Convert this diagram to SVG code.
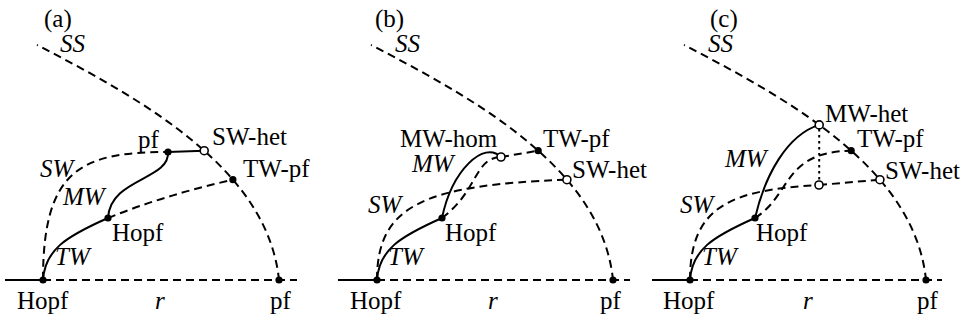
<svg xmlns="http://www.w3.org/2000/svg" width="964" height="323" viewBox="0 0 964 323" font-family="'Liberation Serif', 'Times New Roman', serif">
<style>
  text { font-family: "Liberation Serif", "Times New Roman", serif; font-size: 25px; fill: #000; }
  .it { font-style: italic; }
  .solid { fill: none; stroke: #000; stroke-width: 2; }
  .dash { fill: none; stroke: #000; stroke-width: 2; stroke-dasharray: 8 5; }
  .ss { fill: none; stroke: #000; stroke-width: 2; stroke-dasharray: 8 5; stroke-dashoffset: 7; }
  .dot { fill: none; stroke: #000; stroke-width: 2; stroke-dasharray: 2.5 3.5; }
  .fd { fill: #000; stroke: none; }
  .od { fill: #fff; stroke: #000; stroke-width: 1.6; }
</style>
<rect width="964" height="323" fill="#fff"/>

<!-- Panel (a) -->
<g id="panel-a">
  <g id="connectors-a">
    <line class="solid" x1="5" y1="280" x2="43" y2="280"/>
    <line class="dash" x1="43" y1="280" x2="297" y2="280"/>
    <path class="ss" d="M37,45 C150,103 268,172 279,280"/>
    <path class="dash" d="M43,280 C43,170 80,152 168,152"/>
    <line class="solid" x1="168" y1="152" x2="204" y2="150.7"/>
    <path class="solid" d="M43,280 C45,250 65,237 108,218"/>
    <path class="solid" d="M108,218 C110,178 170,180 168,152"/>
    <path class="dash" d="M108,218 Q165,195 233,179.7"/>
  </g>
  <g id="a-hopf0"><circle class="fd" cx="43" cy="280" r="3.6"/><text x="17" y="309">Hopf</text></g>
  <g id="a-hopf1"><circle class="fd" cx="108" cy="218" r="3.6"/><text x="112" y="241">Hopf</text></g>
  <g id="a-pf"><circle class="fd" cx="168" cy="152" r="3.6"/><text x="138" y="148">pf</text></g>
  <g id="a-swhet"><circle class="od" cx="204.2" cy="150.7" r="4"/><text x="212" y="145">SW-het</text></g>
  <g id="a-twpf"><circle class="fd" cx="232.9" cy="179.7" r="3.6"/><text x="243" y="177">TW-pf</text></g>
  <g id="a-pf0"><circle class="fd" cx="279" cy="280" r="3.6"/><text x="270" y="309">pf</text></g>
  <g id="a-labels">
    <text x="44" y="27">(a)</text>
    <text class="it" x="60" y="52">SS</text>
    <text class="it" x="40" y="177">SW</text>
    <text class="it" x="63" y="205">MW</text>
    <text class="it" x="55" y="265">TW</text>
    <text class="it" x="155" y="309">r</text>
  </g>
</g>

<!-- Panel (b) -->
<g id="panel-b" transform="translate(334,0)">
  <g id="connectors-b">
    <line class="solid" x1="4" y1="280" x2="43" y2="280"/>
    <line class="dash" x1="43" y1="280" x2="296" y2="280"/>
    <path class="ss" d="M37,45 C150,103 268,172 279,280"/>
    <path class="dash" d="M43,280 C43,205 90,185 232.9,179.7"/>
    <path class="solid" d="M43,280 C45,250 65,237 108,218"/>
    <path class="solid" d="M108,218 C118,170 150,140 167,157"/>
    <path class="dash" d="M108,218 C145,190 140,158 167,157"/>
    <line class="dash" x1="167" y1="157" x2="204.2" y2="150.7"/>
  </g>
  <g id="b-hopf0"><circle class="fd" cx="43" cy="280" r="3.6"/><text x="16" y="309">Hopf</text></g>
  <g id="b-hopf1"><circle class="fd" cx="108" cy="218" r="3.6"/><text x="111" y="241">Hopf</text></g>
  <g id="b-mwhom"><circle class="od" cx="167" cy="157" r="4"/><text x="66" y="147">MW-hom</text></g>
  <g id="b-twpf"><circle class="fd" cx="204.2" cy="150.7" r="3.6"/><text x="209" y="147">TW-pf</text></g>
  <g id="b-swhet"><circle class="od" cx="232.9" cy="179.7" r="4"/><text x="238" y="178">SW-het</text></g>
  <g id="b-pf0"><circle class="fd" cx="279" cy="280" r="3.6"/><text x="266" y="309">pf</text></g>
  <g id="b-labels">
    <text x="41" y="27">(b)</text>
    <text class="it" x="61" y="52">SS</text>
    <text class="it" x="78" y="172">MW</text>
    <text class="it" x="34" y="213">SW</text>
    <text class="it" x="54" y="265">TW</text>
    <text class="it" x="154" y="309">r</text>
  </g>
</g>

<!-- Panel (c) -->
<g id="panel-c" transform="translate(647,0)">
  <g id="connectors-c">
    <line class="solid" x1="5" y1="280" x2="43" y2="280"/>
    <line class="dash" x1="43" y1="280" x2="295" y2="280"/>
    <path class="ss" d="M37,45 C150,103 268,172 279,280"/>
    <path class="dash" d="M43,280 C43,205 85,190 172,185"/>
    <line class="dash" x1="172" y1="185" x2="232.9" y2="179.7"/>
    <line class="dot" x1="172.2" y1="129" x2="172.2" y2="181"/>
    <path class="solid" d="M43,280 C45,250 65,237 108,218"/>
    <path class="solid" d="M108,218 C118,175 140,135 172.2,124.9"/>
    <path class="dash" d="M108,218 C145,195 135,152 204.2,150.7"/>
  </g>
  <g id="c-hopf0"><circle class="fd" cx="43" cy="280" r="3.6"/><text x="16" y="309">Hopf</text></g>
  <g id="c-hopf1"><circle class="fd" cx="108" cy="218" r="3.6"/><text x="109" y="241">Hopf</text></g>
  <g id="c-mwhet"><circle class="od" cx="172.2" cy="124.9" r="4"/><text x="178" y="122">MW-het</text></g>
  <g id="c-twpf"><circle class="fd" cx="204.2" cy="150.7" r="3.6"/><text x="210" y="147">TW-pf</text></g>
  <g id="c-swhet"><circle class="od" cx="232.9" cy="179.7" r="4"/><text x="238" y="179">SW-het</text></g>
  <g id="c-mid"><circle class="od" cx="172" cy="185" r="4"/></g>
  <g id="c-pf0"><circle class="fd" cx="279" cy="280" r="3.6"/><text x="270" y="309">pf</text></g>
  <g id="c-labels">
    <text x="63" y="27">(c)</text>
    <text class="it" x="61" y="52">SS</text>
    <text class="it" x="78" y="167">MW</text>
    <text class="it" x="33" y="213">SW</text>
    <text class="it" x="55" y="265">TW</text>
    <text class="it" x="156" y="309">r</text>
  </g>
</g>
</svg>
